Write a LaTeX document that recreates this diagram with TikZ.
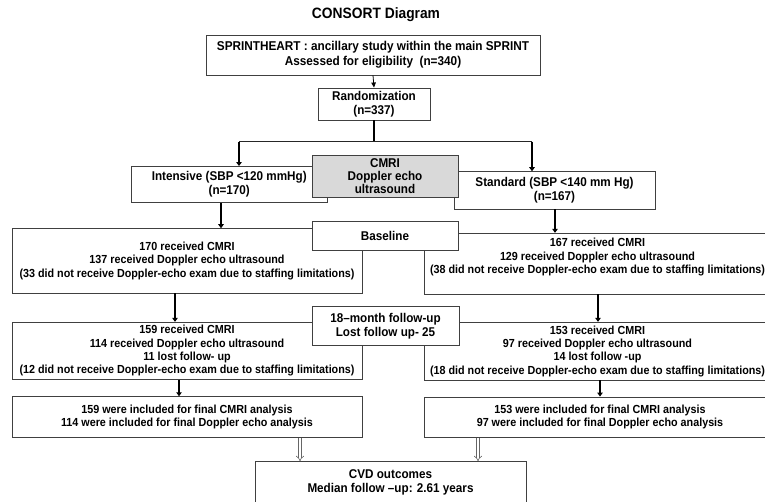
\documentclass[tikz,border=0pt]{standalone}
\usepackage{fontspec}
\setmainfont{Liberation Sans}[FakeStretch=0.92]
\usetikzlibrary{arrows.meta}
\definecolor{bordergray}{HTML}{404040}
\definecolor{boxgray}{HTML}{D9D9D9}
\tikzset{
  boxtext/.style={inner sep=0pt, align=center, font=\bfseries\fontsize{11.7}{13.3}\selectfont, text=black},
  bigtext/.style={font=\bfseries\fontsize{12.7}{14}\selectfont},
  box/.style={boxtext, draw=bordergray, line width=0.9pt, fill=white},
  shaded/.style={box, fill=boxgray},
  titletext/.style={inner sep=0pt, font=\bfseries\fontsize{15}{18}\selectfont},
  thinarrow/.style={line width=0.8pt, draw=black, -{Triangle[length=5pt,width=4.5pt]}},
  thickline/.style={line width=2.4pt, draw=black},
  thickarrow/.style={line width=2.4pt, draw=black, -{Triangle[length=4pt,width=5.5pt]}},
  hline/.style={line width=1.3pt, draw=black!85},
  dblarrow/.style={double=white, double distance=2.2pt, line width=0.6pt, draw=gray!80!black, -{Implies}}
}
\begin{document}
\begin{tikzpicture}[x=1pt, y=-1pt]
\useasboundingbox (0,0) rectangle (765,502);
\clip (0,0) rectangle (765,502);

\node[titletext] (title) at (376,15) {CONSORT Diagram};

\node[box, bigtext, font=\bfseries\fontsize{12.8}{15}\selectfont, minimum width=334pt, minimum height=40pt] (elig) at (373,55)
  {SPRINTHEART : ancillary study within the main SPRINT\\Assessed for eligibility \ (n=340)};
\node[box, bigtext, minimum width=112pt, minimum height=32pt] (rand) at (374,104)
  {Randomization\\(n=337)};

\node[box, bigtext, minimum width=195.5pt, minimum height=36.2pt] (int) at (229.25,184.6)
  {Intensive (SBP <120 mmHg)\\(n=170)};
\node[box, bigtext, minimum width=201pt, minimum height=37.3pt] (std) at (554.5,190.35)
  {Standard (SBP <140 mm Hg)\\(n=167)};
\node[shaded, bigtext, font=\bfseries\fontsize{12.7}{13.4}\selectfont, minimum width=146pt, minimum height=42.3pt] (cmri) at (385,176.15)
  {CMRI\\Doppler echo\\ultrasound};

\node[box, minimum width=350pt, minimum height=64.3pt] (lbase) at (187,260.85)
  {170 received CMRI\\137 received Doppler echo ultrasound\\(33 did not receive Doppler-echo exam due to staffing limitations)};
\node[box, minimum width=352pt, minimum height=60.7pt] (rbase) at (600,263.65) {};
\node[boxtext] (rbasetext) at (597.5,257.3)
  {167 received CMRI\\129 received Doppler echo ultrasound\\(38 did not receive Doppler-echo exam due to staffing limitations)};
\node[box, bigtext, minimum width=146pt, minimum height=28.3pt] (base) at (385,235.85) {Baseline};

\node[box, minimum width=350pt, minimum height=57.2pt] (lfu) at (187,350.9)
  {159 received CMRI\\114 received Doppler echo ultrasound\\11 lost follow- up\\(12 did not receive Doppler-echo exam due to staffing limitations)};
\node[box, minimum width=352pt, minimum height=57.7pt] (rfu) at (600,351.15) {};
\node[boxtext] (rfutext) at (597.5,351.2)
  {153 received CMRI\\97 received Doppler echo ultrasound\\14 lost follow -up\\(18 did not receive Doppler-echo exam due to staffing limitations)};
\node[box, bigtext, minimum width=147pt, minimum height=39.7pt] (fu18) at (385.5,325.85)
  {18–month follow-up\\Lost follow up- 25};

\node[box, minimum width=350pt, minimum height=40.6pt] (lfin) at (187,417)
  {159 were included for final CMRI analysis\\114 were included for final Doppler echo analysis};
\node[box, minimum width=352pt, minimum height=40.5pt] (rfin) at (600,417.25)
  {153 were included for final CMRI analysis\\97 were included for final Doppler echo analysis};

\node[box, bigtext, minimum width=271pt, minimum height=41.3pt] (cvd) at (390.5,482.35)
  {CVD outcomes\\Median follow –up: 2.61 years};

% connectors
\draw[thinarrow] (elig.south) -- (rand.north);
\coordinate (jc) at (374,141.7);
\coordinate (jl) at (239,141.7);
\coordinate (jr) at (532,141.7);
\draw[thickline] (rand.south) -- (jc);
\draw[hline] (jl) -- (jr);
\draw[thickarrow] (jl) -- (jl |- int.north);
\draw[thickarrow] (jr) -- (jr |- std.north);

\coordinate (xa) at (221,0);
\coordinate (xb) at (555,0);
\coordinate (xl1) at (175,0);
\coordinate (xl2) at (179,0);
\coordinate (xr1) at (598,0);
\coordinate (xr2) at (600,0);
\coordinate (xd1) at (300,0);
\coordinate (xd2) at (478,0);
\draw[thickarrow] (xa |- int.south) -- (xa |- lbase.north);
\draw[thickarrow] (xb |- std.south) -- (xb |- rbase.north);
\draw[thickarrow] (xl1 |- lbase.south) -- (xl1 |- lfu.north);
\draw[thickarrow] (xr1 |- rbase.south) -- (xr1 |- rfu.north);
\draw[thickarrow] (xl2 |- lfu.south) -- (xl2 |- lfin.north);
\draw[thickarrow] (xr2 |- rfu.south) -- (xr2 |- rfin.north);
\draw[dblarrow] (xd1 |- lfin.south) -- (xd1 |- cvd.north);
\draw[dblarrow] (xd2 |- rfin.south) -- (xd2 |- cvd.north);
\end{tikzpicture}
\end{document}
